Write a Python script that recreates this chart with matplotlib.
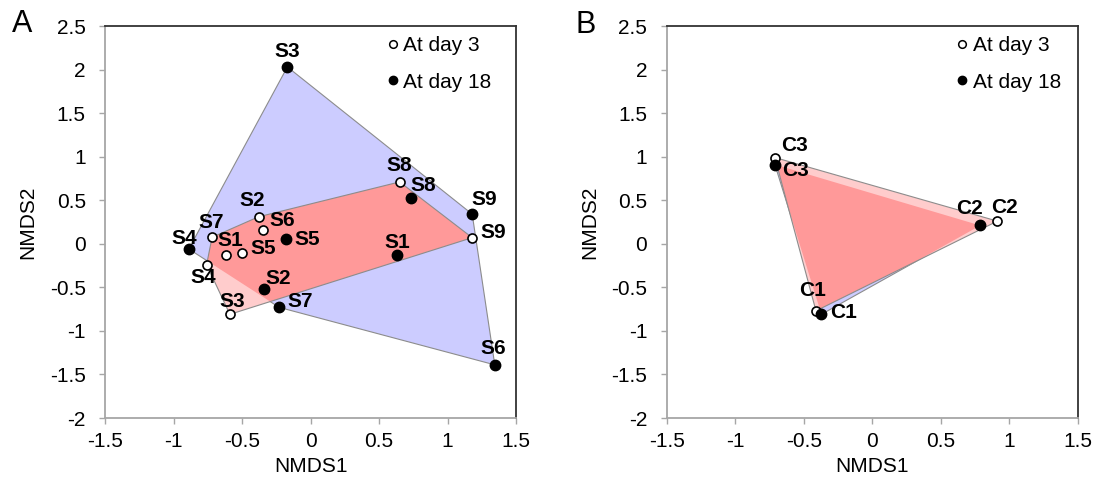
import numpy as np
import matplotlib.pyplot as plt
from matplotlib.patches import Polygon
from matplotlib.lines import Line2D

plt.rcParams['font.family'] = ['Liberation Sans', 'DejaVu Sans']
plt.rcParams['axes.unicode_minus'] = False

# panel A: soil samples
a_names = ['S1', 'S2', 'S3', 'S4', 'S5', 'S6', 'S7', 'S8', 'S9']
a_day3_x = [-0.62, -0.38, -0.59, -0.76, -0.50, -0.35, -0.72, 0.65, 1.18]
a_day3_y = [-0.13, 0.31, -0.81, -0.24, -0.11, 0.16, 0.075, 0.71, 0.07]
a_day18_x = [0.63, -0.34, -0.17, -0.89, -0.18, 1.345, -0.23, 0.735, 1.18]
a_day18_y = [-0.13, -0.52, 2.03, -0.06, 0.05, -1.39, -0.73, 0.53, 0.34]

# panel B: controls
b_names = ['C1', 'C2', 'C3']
b_day3_x = [-0.41, 0.915, -0.71]
b_day3_y = [-0.77, 0.26, 0.99]
b_day18_x = [-0.37, 0.79, -0.71]
b_day18_y = [-0.81, 0.21, 0.91]

ticks_x = [-1.5, -1, -0.5, 0, 0.5, 1, 1.5]
ticks_y = [-2, -1.5, -1, -0.5, 0, 0.5, 1, 1.5, 2, 2.5]

# label offsets in pixels (style only)
a_off3 = {'S1': (5, 15), 'S2': (-6, 16), 'S3': (2, 13), 'S4': (-3, -13), 'S5': (21, 5),
          'S6': (19, 9), 'S7': (-1, 15), 'S8': (0, 16), 'S9': (21, 5)}
a_off18 = {'S1': (0, 13), 'S2': (14, 11), 'S3': (0, 15), 'S4': (-5, 11), 'S5': (21, 0),
           'S6': (-2, 16), 'S7': (21, 6), 'S8': (12, 12), 'S9': (12, 15)}
b_off3 = {'C1': (-3, 20), 'C2': (7, 14), 'C3': (20, 12)}
b_off18 = {'C1': (22, 2), 'C2': (-11, 17), 'C3': (21, -6)}


def hull(xs, ys):
    pts = sorted(zip(xs, ys))

    def cross(o, a, b):
        return (a[0]-o[0])*(b[1]-o[1]) - (a[1]-o[1])*(b[0]-o[0])
    lower, upper = [], []
    for p in pts:
        while len(lower) >= 2 and cross(lower[-2], lower[-1], p) <= 0:
            lower.pop()
        lower.append(p)
    for p in reversed(pts):
        while len(upper) >= 2 and cross(upper[-2], upper[-1], p) <= 0:
            upper.pop()
        upper.append(p)
    return np.array(lower[:-1] + upper[:-1])


def panel(ax, names, x3, y3, x18, y18, off3, off18, leg_x):
    h18 = hull(x18, y18)
    h3 = hull(x3, y3)
    blue = Polygon(h18, closed=True, facecolor='#CCCCFF', edgecolor='#8C8C8C', lw=0.8, zorder=1)
    ax.add_patch(blue)
    ax.add_patch(Polygon(h3, closed=True, facecolor='#FFCCCC', edgecolor='none', zorder=2))
    over = Polygon(h3, closed=True, facecolor='#FF9999', edgecolor='none', zorder=3)
    ax.add_patch(over)
    over.set_clip_path(blue)
    ax.add_patch(Polygon(h3, closed=True, fill=False, edgecolor='#8C8C8C', lw=0.8, zorder=4))

    ax.plot(x3, y3, 'o', ms=6.5, mfc='white', mec='black', mew=1.2, ls='none', zorder=5)
    ax.plot(x18, y18, 'o', ms=7.5, mfc='black', mec='black', ls='none', zorder=6)
    for i, n in enumerate(names):
        ax.annotate(n, (x3[i], y3[i]), xytext=off3[n], textcoords='offset pixels',
                    ha='center', va='center', fontsize=15, fontweight='bold', zorder=7)
        ax.annotate(n, (x18[i], y18[i]), xytext=off18[n], textcoords='offset pixels',
                    ha='center', va='center', fontsize=15, fontweight='bold', zorder=7)

    handles = [Line2D([], [], marker='o', ls='none', ms=5.5, mfc='white', mec='black', mew=1.1),
               Line2D([], [], marker='o', ls='none', ms=6, mfc='black', mec='black')]
    ax.legend(handles, ['At day 3', 'At day 18'], loc='upper left', bbox_to_anchor=(leg_x, 0.975),
              frameon=False, fontsize=15, handlelength=0.5, handletextpad=0.25,
              borderaxespad=0, borderpad=0, labelspacing=0.85)

    ax.set_xlim(-1.5, 1.5)
    ax.set_ylim(-2, 2.5)
    ax.set_xticks(ticks_x)
    ax.set_yticks(ticks_y)
    ax.set_xticklabels([f'{v:g}' for v in ticks_x])
    ax.set_yticklabels([f'{v:g}' for v in ticks_y])
    ax.tick_params(direction='out', length=4, width=1, color='#A6A6A6', labelsize=15)
    ax.tick_params(axis='y', pad=10)
    ax.tick_params(axis='x', pad=6)
    for s in ['left', 'bottom']:
        ax.spines[s].set_color('#A6A6A6')
        ax.spines[s].set_linewidth(1.3)
    for s in ['top', 'right']:
        ax.spines[s].set_color('#333333')
        ax.spines[s].set_linewidth(1.3)
    ax.set_xlabel('NMDS1', fontsize=15)
    ax.set_ylabel('NMDS2', fontsize=15)
    ax.xaxis.set_label_coords(0.5, -0.1)
    ax.yaxis.set_label_coords(-0.165, 0.5)


fig = plt.figure(figsize=(10.95, 4.88), dpi=100)
h = (418 - 26) / 488
axA = fig.add_axes([105.3 / 1095, 1 - 418 / 488, 410.7 / 1095, h])
axB = fig.add_axes([666.7 / 1095, 1 - 418 / 488, 410.8 / 1095, h])

panel(axA, a_names, a_day3_x, a_day3_y, a_day18_x, a_day18_y, a_off3, a_off18, 0.688)
panel(axB, b_names, b_day3_x, b_day3_y, b_day18_x, b_day18_y, b_off3, b_off18, 0.707)

fig.text(22 / 1095, 1 - 24 / 488, 'A', fontsize=22, ha='center', va='center')
fig.text(586 / 1095, 1 - 25 / 488, 'B', fontsize=22, ha='center', va='center')

fig.savefig('out.png', dpi=100)
